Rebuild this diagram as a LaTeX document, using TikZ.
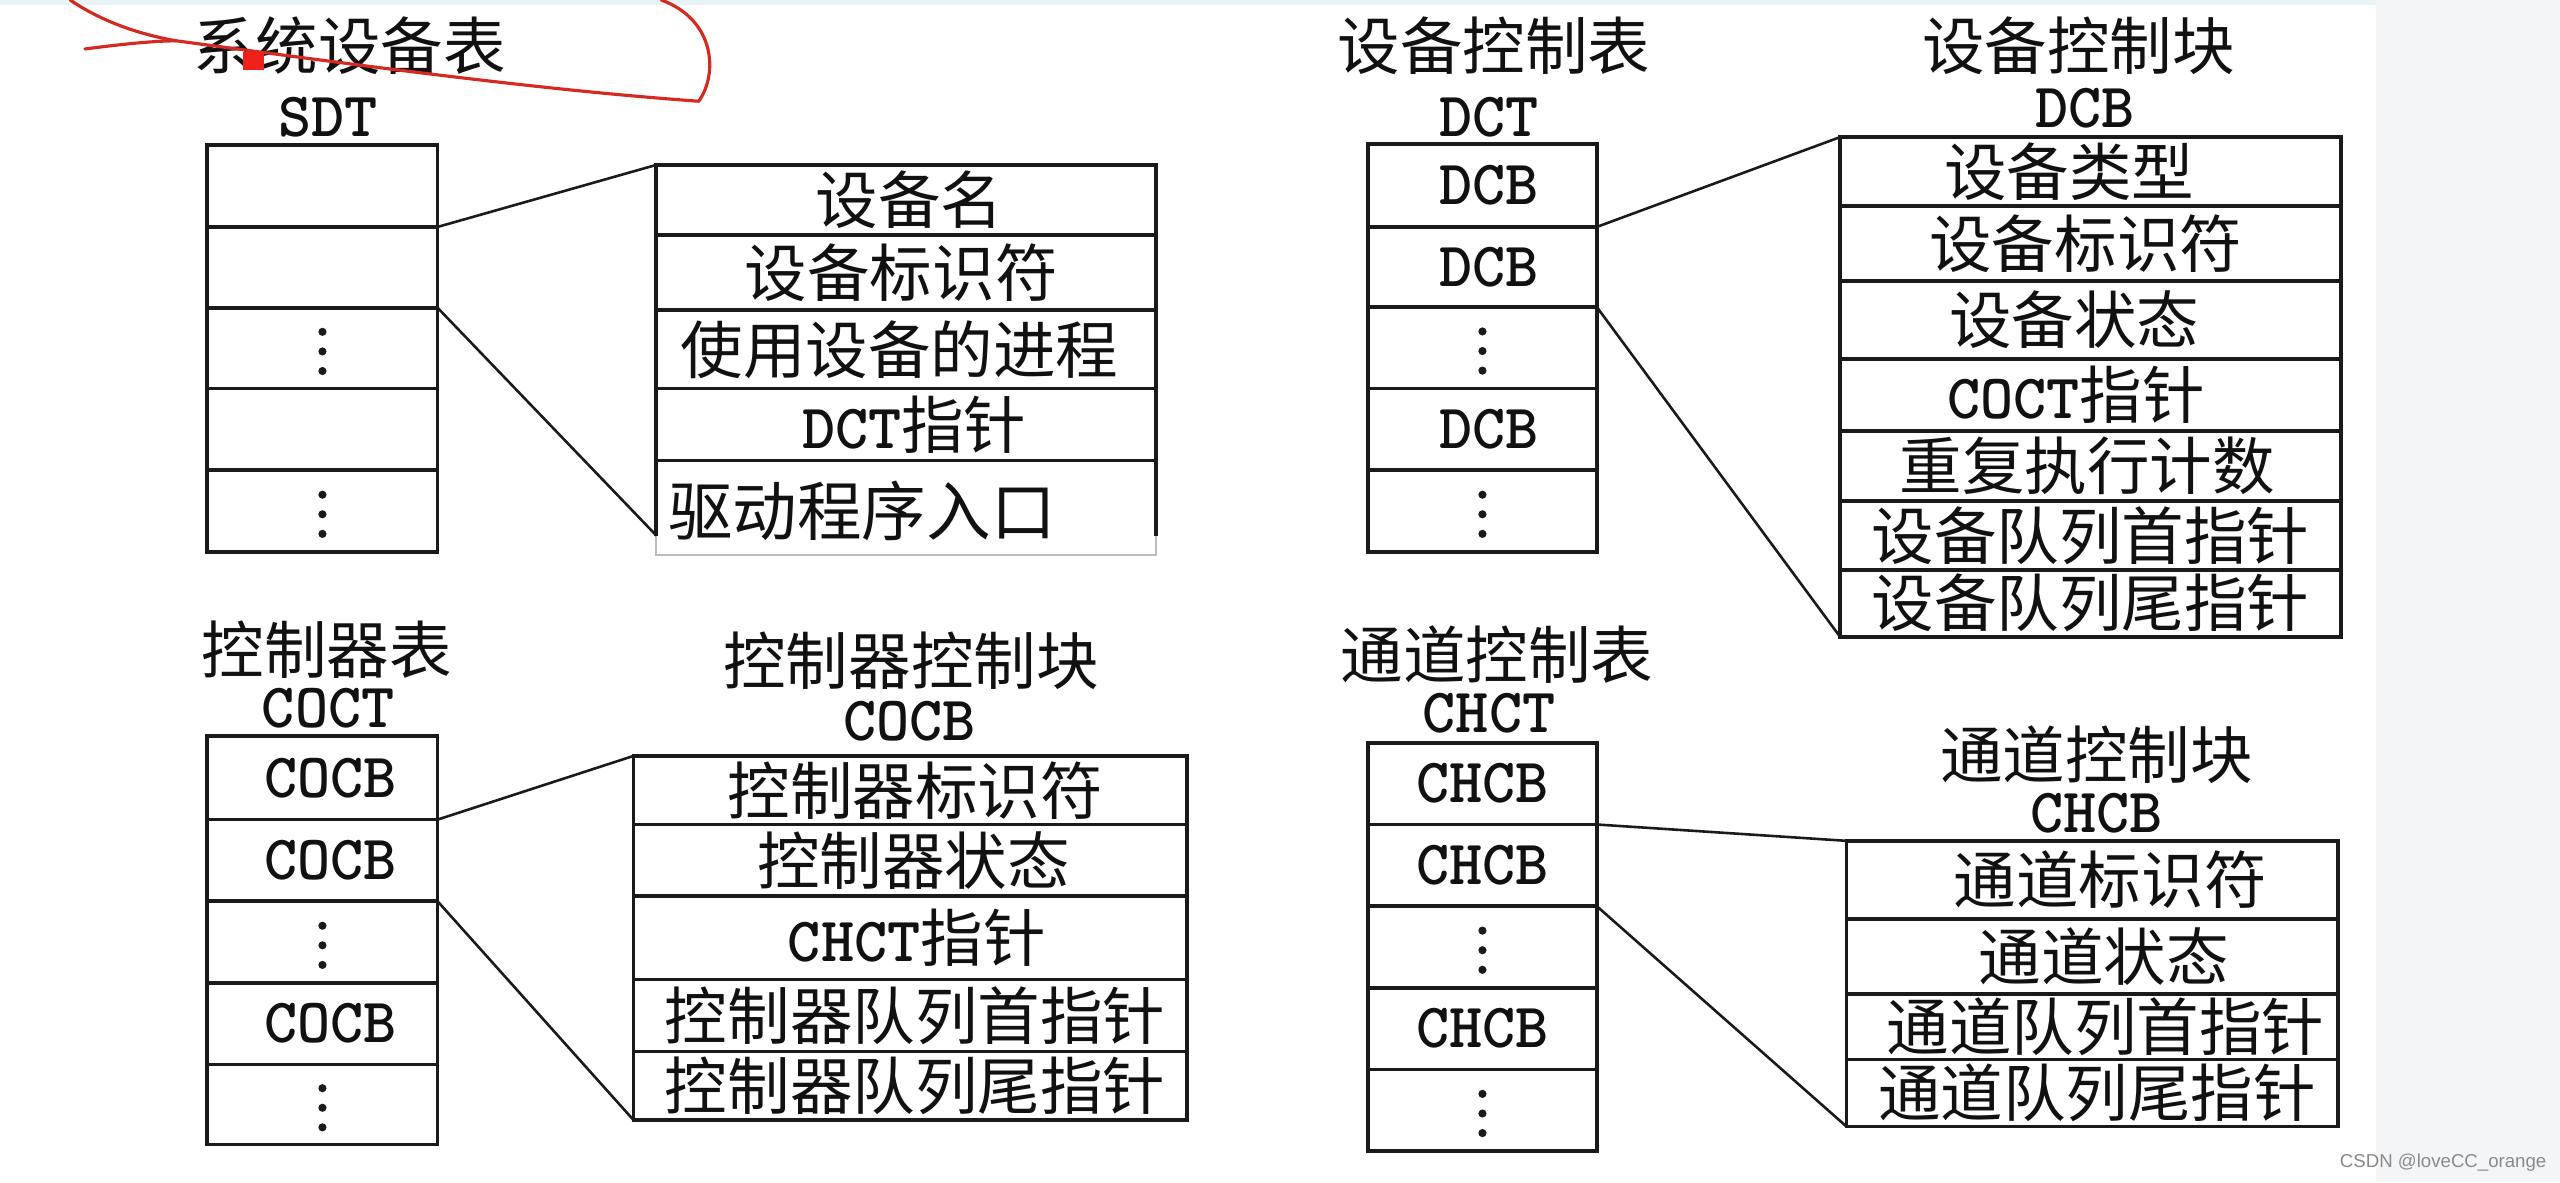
\documentclass[tikz,border=0pt]{standalone}
\usepackage{fontspec}
\setmainfont{Noto Sans CJK SC}
\newfontfamily\latf{lmmonolt10-bold.otf}
\newfontfamily\wmf{Liberation Sans}
\usetikzlibrary{fit}
\definecolor{linec}{HTML}{1A1A1A}
\definecolor{txtc}{HTML}{111111}
\definecolor{redc}{HTML}{D42A22}
\definecolor{sqred}{HTML}{F0201A}
\definecolor{faintc}{HTML}{BDBDBD}
\definecolor{wmc}{HTML}{8A8A8A}
\definecolor{sidebg}{HTML}{F4F5F7}
\definecolor{topc}{HTML}{E6F4F6}
\newcommand\latx[1]{{\latf\fontsize{22pt}{24pt}\selectfont #1}}
\tikzset{
  cell/.style={draw=linec, line width=1.3pt, inner sep=0pt, outer sep=0pt},
  txt/.style={font=\fontsize{21.8pt}{24pt}\selectfont, text=txtc, inner sep=0pt},
  conn/.style={draw=linec, line width=0.9pt},
  dotf/.style={fill=linec},
  redmark/.style={draw=redc, line width=1.1pt, line cap=round, line join=round},
}
% name, x1, y1, x2, y2, text, dx
\newcommand\rowbox[7]{%
  \node[cell, fit={(#2,#3)(#4,#5)}] (#1) {};
  \node[txt] (#1t) at ([xshift=#7*0.02cm]#1.center) {#6};}
\newcommand\vdts[1]{%
  \fill[dotf] ([yshift=0.2cm]#1.center) circle (0.05cm);
  \fill[dotf] ([yshift=-0.04cm]#1.center) circle (0.05cm);
  \fill[dotf] ([yshift=-0.28cm]#1.center) circle (0.05cm);}
\begin{document}
\begin{tikzpicture}[x=0.02cm,y=-0.02cm]
\useasboundingbox (0,0) rectangle (1568,724);
\fill[white] (0,0) rectangle (1568,724);
\fill[sidebg] (1455,0) rectangle (1568,724);
\fill[topc] (0,0) rectangle (1455,3);

% ---------- SDT ----------
\node[txt] (sdtT) at (214,28) {系统设备表};
\node[txt] (sdtL) at (201,72) {\latx{SDT}};
\rowbox{sdt1}{127}{89}{268}{139}{}{0}
\rowbox{sdt2}{127}{139}{268}{188.5}{}{0}
\rowbox{sdt3}{127}{188.5}{268}{238}{}{0}
\rowbox{sdt4}{127}{238}{268}{288}{}{0}
\rowbox{sdt5}{127}{288}{268}{338}{}{0}
\vdts{sdt3}
\vdts{sdt5}

\rowbox{sd1}{402}{101}{708}{144}{设备名}{2}
\rowbox{sd2}{402}{144}{708}{190}{设备标识符}{-3}
\rowbox{sd3}{402}{190}{708}{238}{使用设备的进程}{-4}
\rowbox{sd4}{402}{238}{708}{282}{\latx{DCT}指针}{5}
\node[fit={(402,282)(708,340)}, inner sep=0pt, draw=none] (drv) {};
\draw[linec, line width=1.3pt] (402,282) -- (402,328);
\draw[linec, line width=1.3pt] (708,282) -- (708,328);
\draw[faintc, line width=0.8pt] (402,328) -- (402,340) -- (708,340) -- (708,328);
\node[txt, anchor=west, font=\fontsize{22.5pt}{24pt}\selectfont] (drvt) at (409,313) {驱动程序入口};
\coordinate (sdend) at (402,328);
\draw[conn] (sdt1.south east) -- (sd1.north west);
\draw[conn] (sdt2.south east) -- (sdend);

% ---------- DCT ----------
\node[txt] (dctT) at (915,28) {设备控制表};
\node[txt] (dctL) at (912,72) {\latx{DCT}};
\rowbox{dct1}{838}{88}{978}{139}{\latx{DCB}}{4}
\rowbox{dct2}{838}{139}{978}{188}{\latx{DCB}}{4}
\rowbox{dct3}{838}{188}{978}{238}{}{0}
\rowbox{dct4}{838}{238}{978}{288}{\latx{DCB}}{4}
\rowbox{dct5}{838}{288}{978}{338}{}{0}
\vdts{dct3}
\vdts{dct5}

\node[txt] (dcbT) at (1273,28) {设备控制块};
\node[txt] (dcbL) at (1277,66) {\latx{DCB}};
\rowbox{db1}{1127}{84}{1434}{126}{设备类型}{-13}
\rowbox{db2}{1127}{126}{1434}{172}{设备标识符}{-3}
\rowbox{db3}{1127}{172}{1434}{220}{设备状态}{-10}
\rowbox{db4}{1127}{220}{1434}{264}{\latx{COCT}指针}{-9}
\rowbox{db5}{1127}{264}{1434}{307}{重复执行计数}{-2}
\rowbox{db6}{1127}{307}{1434}{349}{设备队列首指针}{0}
\rowbox{db7}{1127}{349}{1434}{390}{设备队列尾指针}{0}
\draw[conn] (dct1.south east) -- (db1.north west);
\draw[conn] (dct2.south east) -- (db7.south west);

% ---------- COCT ----------
\node[txt] (coctT) at (200,398) {控制器表};
\node[txt] (coctL) at (201,434) {\latx{COCT}};
\rowbox{coct1}{127}{451}{268}{502}{\latx{COCB}}{5}
\rowbox{coct2}{127}{502}{268}{552}{\latx{COCB}}{5}
\rowbox{coct3}{127}{552}{268}{602}{}{0}
\rowbox{coct4}{127}{602}{268}{652}{\latx{COCB}}{5}
\rowbox{coct5}{127}{652}{268}{701}{}{0}
\vdts{coct3}
\vdts{coct5}

\node[txt] (cocbT) at (558,405) {控制器控制块};
\node[txt] (cocbL) at (557,442) {\latx{COCB}};
\rowbox{cb1}{388}{463}{727}{505}{控制器标识符}{3}
\rowbox{cb2}{388}{505}{727}{549}{控制器状态}{2}
\rowbox{cb3}{388}{549}{727}{600}{\latx{CHCT}指针}{4}
\rowbox{cb4}{388}{600}{727}{644}{控制器队列首指针}{3}
\rowbox{cb5}{388}{644}{727}{686}{控制器队列尾指针}{3}
\draw[conn] (coct1.south east) -- (cb1.north west);
\draw[conn] (coct2.south east) -- (cb5.south west);

% ---------- CHCT ----------
\node[txt] (chctT) at (917,401) {通道控制表};
\node[txt] (chctL) at (912,437) {\latx{CHCT}};
\rowbox{chct1}{838}{455}{978}{505}{\latx{CHCB}}{0}
\rowbox{chct2}{838}{505}{978}{555}{\latx{CHCB}}{0}
\rowbox{chct3}{838}{555}{978}{605}{}{0}
\rowbox{chct4}{838}{605}{978}{655}{\latx{CHCB}}{0}
\rowbox{chct5}{838}{655}{978}{705}{}{0}
\vdts{chct3}
\vdts{chct5}

\node[txt] (chcbT) at (1284,462) {通道控制块};
\node[txt] (chcbL) at (1284,498) {\latx{CHCB}};
\rowbox{hb1}{1131}{515}{1432}{563}{通道标识符}{11}
\rowbox{hb2}{1131}{563}{1432}{609}{通道状态}{7}
\rowbox{hb3}{1131}{609}{1432}{649}{通道队列首指针}{8}
\rowbox{hb4}{1131}{649}{1432}{690}{通道队列尾指针}{3}
\draw[conn] (chct1.south east) -- (hb1.north west);
\draw[conn] (chct2.south east) -- (hb4.south west);

% ---------- red annotation ----------
\draw[redmark] (43,0) .. controls (62,13) and (85,21) .. (108,25);
\draw[redmark] (52,30) .. controls (75,27) and (95,25) .. (108,25);
\draw[redmark] (108,25) .. controls (220,40) and (330,55) .. (428,62)
  .. controls (440,45) and (438,12) .. (405,0);
\fill[sqred] (149,32) rectangle (162,43);

% ---------- watermark ----------
\node[font=\wmf\fontsize{6.5pt}{7pt}\selectfont, text=wmc, anchor=east, inner sep=0pt] (wm) at (1560,712) {CSDN @loveCC\_orange};
\end{tikzpicture}
\end{document}
